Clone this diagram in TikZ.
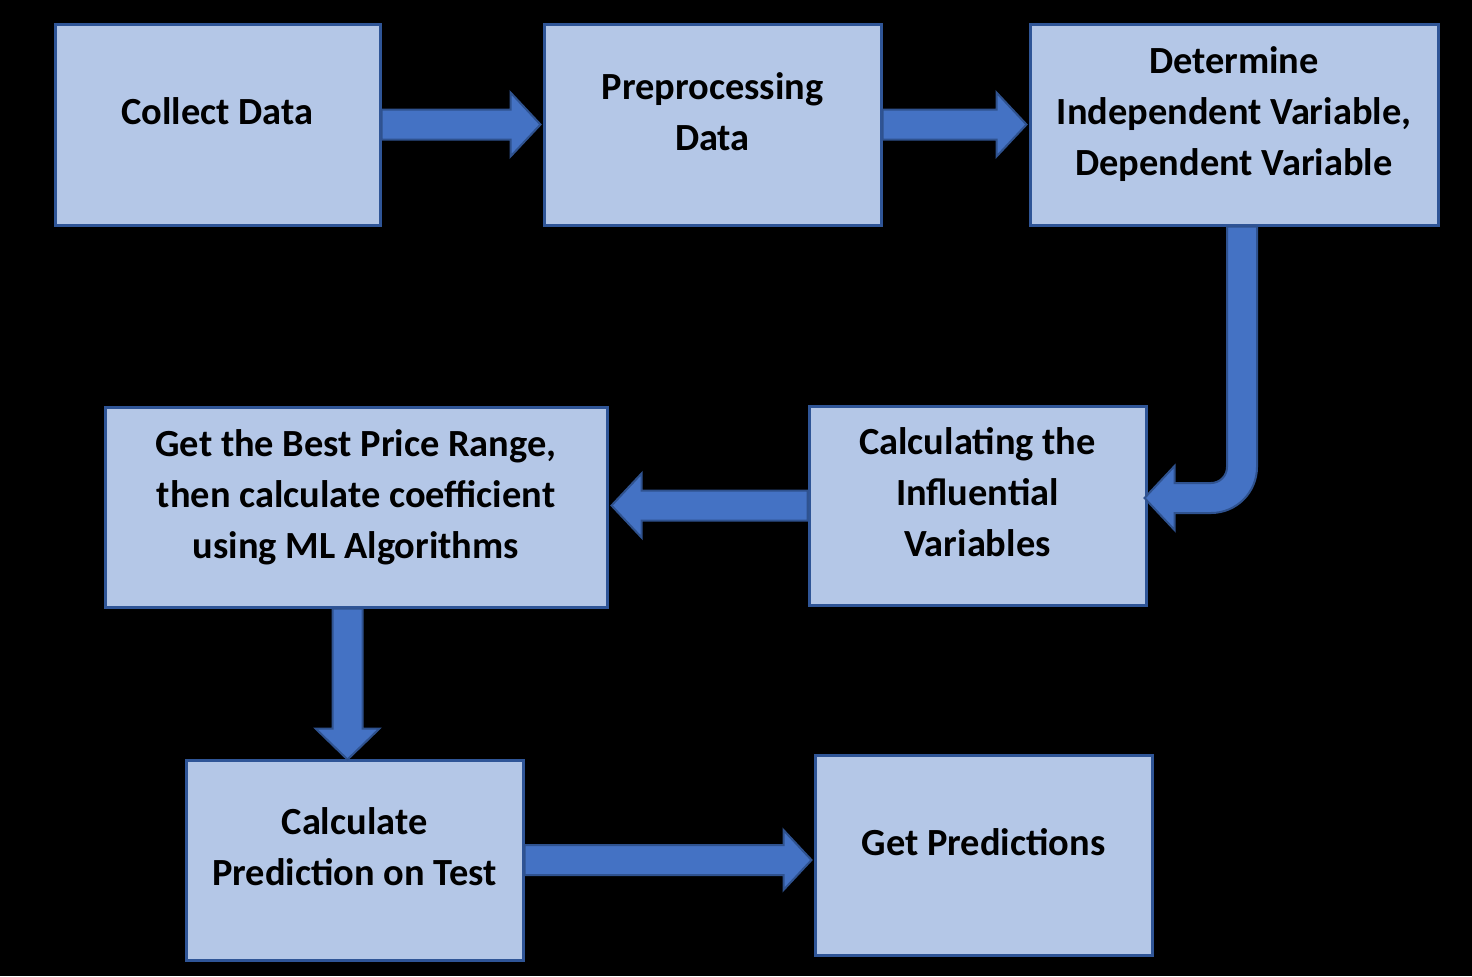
\documentclass[tikz,border=0pt]{standalone}
\usepackage{fontspec}
\setmainfont{Carlito}
\usepackage{xcolor}
\usetikzlibrary{calc}
\definecolor{boxfill}{HTML}{B4C7E7}
\definecolor{boxline}{HTML}{2F5597}
\definecolor{arrowfill}{HTML}{4472C4}
\definecolor{arrowline}{HTML}{2F528F}
\tikzset{
  box/.style={draw=boxline, fill=boxfill, line width=1.5pt, inner sep=0pt, align=center,
    font=\fontsize{19.2pt}{25.5pt}\selectfont\bfseries, text height=12pt, text depth=12pt},
  blockarrow/.style={draw=arrowline, fill=arrowfill, line width=1pt, line join=miter}
}
\begin{document}
\begin{tikzpicture}[x=0.5pt,y=-0.5pt]
\fill[black] (0,0) rectangle (1472,976);
\node[box, minimum width=162.5pt, minimum height=100.5pt] (collect) at (217.5,124.5) {Collect Data};
\node[box, minimum width=168.5pt, minimum height=100.5pt, text height=37.5pt] (preproc) at (712.5,124.5) {Preprocessing\\Data};
\node[box, minimum width=204pt, minimum height=100.5pt, text height=63pt] (determine) at (1234,124.5) {Determine\\Independent Variable,\\Dependent Variable};
\node[box, minimum width=168.5pt, minimum height=99.5pt, text height=63pt] (influ) at (977.5,505.5) {Calculating the\\Influential\\Variables};
\node[box, minimum width=251pt, minimum height=100pt, text height=63pt] (best) at (356,507) {Get the Best Price Range,\\then calculate coefficient\\using ML Algorithms};
\node[box, minimum width=168.5pt, minimum height=100pt, text height=37.5pt] (calcpred) at (354.5,860) {Calculate\\Prediction on Test};
\node[box, minimum width=168.5pt, minimum height=100pt] (getpred) at (983.5,855) {Get Predictions};
\coordinate (bendtop) at ($(determine.south)+(8,0)$);
\coordinate (bendtip) at ($(influ.east)+(-3,-7.5)$);
\coordinate (downtop) at ($(best.south)+(-8.5,0)$);
% block arrows
\filldraw[blockarrow] ($(collect.east)+(0,-15)$) -- ($(preproc.west)+(-32,-15)$) -- ($(preproc.west)+(-32,-32)$) -- ($(preproc.west)+(-2,0)$) -- ($(preproc.west)+(-32,32)$) -- ($(preproc.west)+(-32,15)$) -- ($(collect.east)+(0,15)$) -- cycle;
\filldraw[blockarrow] ($(preproc.east)+(0,-15)$) -- ($(determine.west)+(-32,-15)$) -- ($(determine.west)+(-32,-32)$) -- ($(determine.west)+(-2,0)$) -- ($(determine.west)+(-32,32)$) -- ($(determine.west)+(-32,15)$) -- ($(preproc.east)+(0,15)$) -- cycle;
\filldraw[blockarrow] ($(bendtop)+(-15,0)$) -- ($(bendtop |- bendtip)+(-15,-31)$) arc[start angle=0, end angle=-90, radius=8pt] -- ($(bendtip)+(30,-15)$) -- ($(bendtip)+(30,-32)$) -- (bendtip) -- ($(bendtip)+(30,32)$) -- ($(bendtip)+(30,15)$) -- ($(bendtop |- bendtip)+(-31,15)$) arc[start angle=-90, end angle=0, radius=23pt] -- ($(bendtop)+(15,0)$) -- cycle;
\filldraw[blockarrow] ($(influ.west)+(0,-15)$) -- ($(best.east |- influ.west)+(33,-15)$) -- ($(best.east |- influ.west)+(33,-32)$) -- ($(best.east |- influ.west)+(3,0)$) -- ($(best.east |- influ.west)+(33,32)$) -- ($(best.east |- influ.west)+(33,15)$) -- ($(influ.west)+(0,15)$) -- cycle;
\filldraw[blockarrow] ($(downtop)+(-15,0)$) -- ($(downtop |- calcpred.north)+(-15,-30)$) -- ($(downtop |- calcpred.north)+(-32,-30)$) -- ($(downtop |- calcpred.north)+(0,1)$) -- ($(downtop |- calcpred.north)+(32,-30)$) -- ($(downtop |- calcpred.north)+(15,-30)$) -- ($(downtop)+(15,0)$) -- cycle;
\filldraw[blockarrow] ($(calcpred.east)+(0,-15)$) -- ($(getpred.west |- calcpred.east)+(-30,-15)$) -- ($(getpred.west |- calcpred.east)+(-30,-30)$) -- ($(getpred.west |- calcpred.east)+(-2,0)$) -- ($(getpred.west |- calcpred.east)+(-30,30)$) -- ($(getpred.west |- calcpred.east)+(-30,15)$) -- ($(calcpred.east)+(0,15)$) -- cycle;
\end{tikzpicture}
\end{document}
